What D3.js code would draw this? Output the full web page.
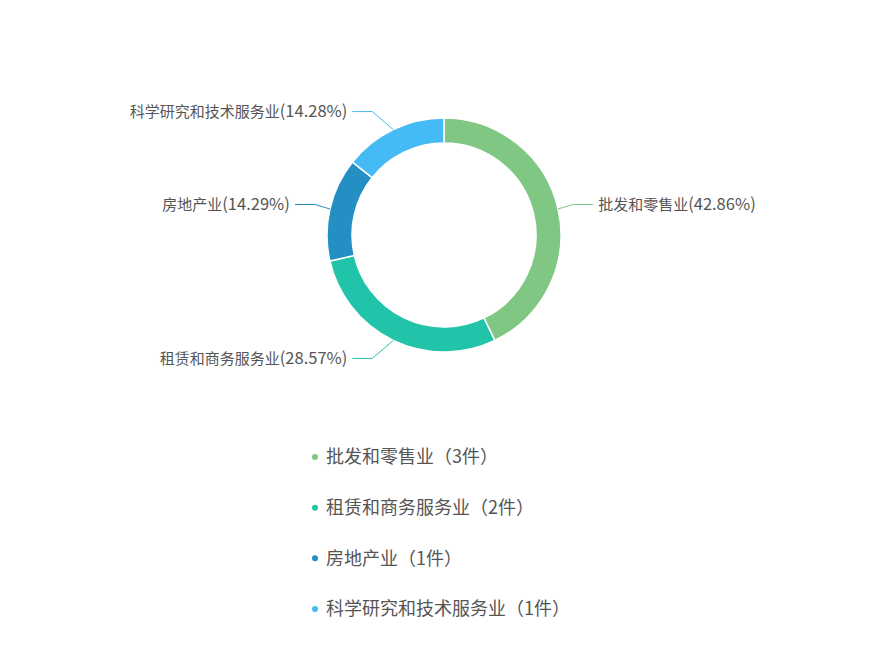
<!DOCTYPE html>
<html>
<head>
<meta charset="utf-8">
<script src="https://cdn.jsdelivr.net/npm/d3@7"></script>
<style>
  html, body { margin: 0; padding: 0; background: #fff; }
  svg { display: block; font-family: "Noto Sans CJK SC", "Noto Sans", sans-serif; }
</style>
</head>
<body>
<svg id="chart" width="888" height="653"></svg>
<script>
  // industries, counts and the printed shares
  const categories = ['批发和零售业', '租赁和商务服务业', '房地产业', '科学研究和技术服务业'];
  const counts = [3, 2, 1, 1];
  const shareLabels = ['42.86%', '28.57%', '14.29%', '14.28%'];
  const colors = ['#81c784', '#22c4a9', '#238fc3', '#44bbf4'];

  const width = 888;
  const height = 653;
  const cx = 444;
  const cy = 235;
  const outerR = 117;
  const innerR = 92;

  const svg = d3.select('#chart');

  const pie = d3.pie().sort(null).value(d => d.count);
  const arc = d3.arc().innerRadius(innerR).outerRadius(outerR);

  const rows = categories.map((name, i) => ({
    name, count: counts[i], share: shareLabels[i], color: colors[i]
  }));
  const arcs = pie(rows);

  const g = svg.append('g').attr('transform', `translate(${cx},${cy})`);

  g.selectAll('path.slice')
    .data(arcs)
    .join('path')
    .attr('class', 'slice')
    .attr('d', arc)
    .attr('fill', d => d.data.color)
    .attr('stroke', '#fff')
    .attr('stroke-width', 1.5);

  // label lines: radial-ish first leg, then horizontal leg
  const len1 = 15, len2 = 20, yR = outerR + 20, bR = outerR + 30;
  function labelGeom(d) {
    const a = (d.startAngle + d.endAngle) / 2;
    const dir = Math.sin(a) >= 0 ? 1 : -1;
    const p0 = [outerR * Math.sin(a), -outerR * Math.cos(a)];
    const ey = -yR * Math.cos(a);
    const dx = (outerR + len1) * Math.sqrt(Math.max(0, 1 - (ey * ey) / (bR * bR)));
    const p1 = [dir * dx, ey];
    const p2 = [p1[0] + dir * len2, ey];
    return { dir, pts: [p0, p1, p2] };
  }

  const labels = g.append('g');
  arcs.forEach(d => {
    const geo = labelGeom(d);
    labels.append('polyline')
      .attr('points', geo.pts.map(p => p.join(',')).join(' '))
      .attr('fill', 'none')
      .attr('stroke', d.data.color)
      .attr('stroke-width', 1);
    const t = labels.append('text')
      .attr('x', geo.pts[2][0] + geo.dir * 5)
      .attr('y', geo.pts[2][1])
      .attr('dy', '0.35em')
      .attr('text-anchor', geo.dir > 0 ? 'start' : 'end')
      .attr('font-size', 15)
      .attr('fill', '#555');
    t.append('tspan').text(d.data.name);
    t.append('tspan').attr('font-size', 16.5).text(`(${d.data.share})`);
  });

  // legend
  const legendY = d3.scalePoint().domain(categories).range([457, 609]);
  const legend = svg.append('g');
  const item = legend.selectAll('g')
    .data(rows)
    .join('g')
    .attr('transform', d => `translate(315,${legendY(d.name)})`);

  item.append('circle')
    .attr('r', 3)
    .attr('fill', d => d.color);

  item.append('text')
    .attr('x', 11)
    .attr('dy', '0.35em')
    .attr('font-size', 18)
    .attr('fill', '#555')
    .text(d => `${d.name}（${d.count}件）`);
</script>
</body>
</html>
